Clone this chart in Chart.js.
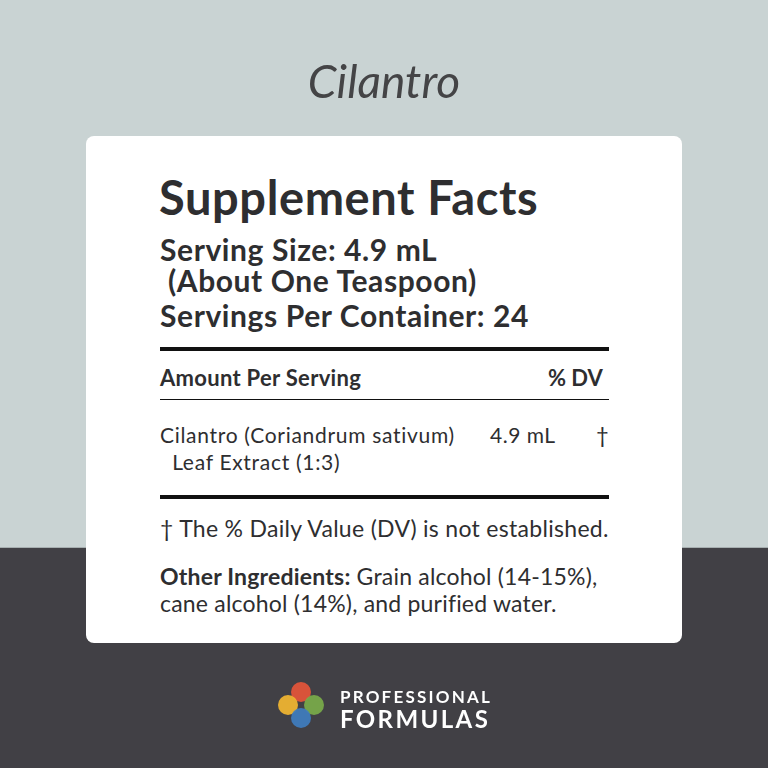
<!DOCTYPE html>
<html><head><meta charset="utf-8">
<script src="https://cdn.jsdelivr.net/npm/chart.js@4"></script>
<style>
html,body{margin:0;padding:0;width:768px;height:768px;overflow:hidden;font-family:Lato,"Noto Sans",sans-serif;color:#2e2e30}
#bg{position:absolute;left:0;top:0;width:768px;height:768px}
.t{position:absolute;white-space:nowrap;line-height:1}
#card{position:absolute;left:86px;top:136px;width:596px;height:507px;background:#fff;border-radius:8px}
.rule{position:absolute;left:160px;width:449px;background:#111}
.dot{position:absolute;width:20px;height:20px;border-radius:50%}
</style></head><body>
<canvas id="bg" width="768" height="768"></canvas>
<div id="card"></div>
<div id="txt"></div>
<script>
// background bands (pixels from bottom): dark band, light band
const bandLabels = ["band"];
const darkBand = [220];
const lightBand = [548];
const title = "Cilantro";
const servingLines = ["Serving Size: 4.9 mL", "\u00a0(About One Teaspoon)", "Servings Per Container: 24"];
const ingredient = ["Cilantro (Coriandrum sativum)", "\u00a0\u00a0Leaf Extract (1:3)"];
const ingredientAmount = ["4.9 mL"];
const ingredientDV = ["\u2020"];

new Chart(document.getElementById('bg'), {
  type:'bar',
  data:{labels:bandLabels,datasets:[
    {data:darkBand,backgroundColor:'#414045',barPercentage:1,categoryPercentage:1,stack:'s'},
    {data:lightBand,backgroundColor:'#c9d3d3',barPercentage:1,categoryPercentage:1,stack:'s'}]},
  options:{responsive:false,animation:false,layout:{padding:0},
    plugins:{legend:{display:false},tooltip:{enabled:false}},
    scales:{x:{display:false,stacked:true},y:{display:false,stacked:true,min:0,max:768}}}
});

const T = document.getElementById('txt');
function add(s, x, y, size, extra){
  const d=document.createElement('div');d.className='t';d.textContent=s;
  d.style.left=x+'px';d.style.top=y+'px';d.style.fontSize=size+'px';
  Object.assign(d.style, extra||{});T.appendChild(d);return d;
}
add(title,0,58,46,{width:'768px',textAlign:'center',fontStyle:'italic',color:'#444446'});
add("Supplement Facts",159,174,47,{fontWeight:'bold',letterSpacing:'0.6px'});
servingLines.forEach((s,i)=>add(s,160,[234,265,300][i],30,{fontWeight:'bold',letterSpacing:'0.6px'}));
add("Amount Per Serving",160,367,22,{fontWeight:'bold',letterSpacing:'0.3px'});
add("% DV",548,367,22,{fontWeight:'bold'});
ingredient.forEach((s,i)=>add(s,160,[424,451][i],21,{letterSpacing:'0.7px'}));
add(ingredientAmount[0],490,424,21,{letterSpacing:'0.5px'});
add(ingredientDV[0],596,424,22);
add("\u2020 The % Daily Value (DV) is not established.",160,517,23,{letterSpacing:'0.3px'});
const oi=add("",160,565,23,{letterSpacing:'0.2px'});oi.innerHTML='<b>Other Ingredients:</b> Grain alcohol (14-15%),';
add("cane alcohol (14%), and purified water.",160,592,23,{letterSpacing:'0.2px'});
[[347,4],[399,1],[495,4]].forEach(([y,h])=>{const r=document.createElement('div');r.className='rule';r.style.top=y+'px';r.style.height=h+'px';T.appendChild(r);});
[[301,692,'#e5553a'],[288,705,'#f2b631'],[314,705,'#7aab4a'],[301,718,'#3f7dbf']].forEach(([x,y,c])=>{const d=document.createElement('div');d.className='dot';d.style.left=(x-10)+'px';d.style.top=(y-10)+'px';d.style.background=c;d.style.opacity=0.92;T.appendChild(d);});
add("PROFESSIONAL",340,688,17,{fontWeight:'bold',color:'#fff',letterSpacing:'2.2px'});
add("FORMULAS",340,707,24,{fontWeight:'bold',color:'#fff',letterSpacing:'2.4px'});
</script>
</body></html>
